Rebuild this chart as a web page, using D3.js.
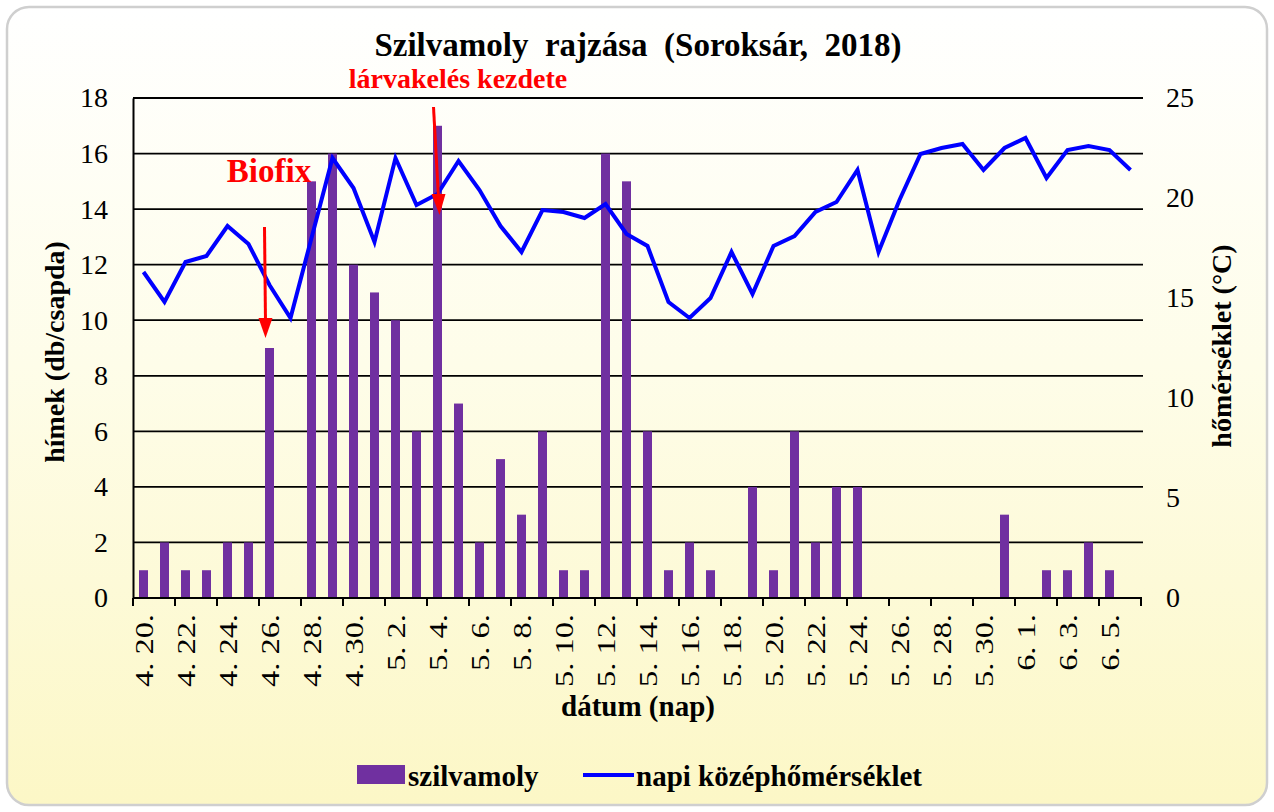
<!DOCTYPE html>
<html><head><meta charset="utf-8">
<script src="https://cdn.jsdelivr.net/npm/d3@7"></script>
<style>body{margin:0;background:#fff}svg{display:block}</style>
</head><body>
<svg id="c" width="1274" height="812"></svg>
<script>
const dates = ["4. 20.","4. 21.","4. 22.","4. 23.","4. 24.","4. 25.","4. 26.","4. 27.","4. 28.","4. 29.","4. 30.",
"5. 1.","5. 2.","5. 3.","5. 4.","5. 5.","5. 6.","5. 7.","5. 8.","5. 9.","5. 10.","5. 11.","5. 12.","5. 13.","5. 14.","5. 15.","5. 16.","5. 17.","5. 18.","5. 19.","5. 20.","5. 21.","5. 22.","5. 23.","5. 24.","5. 25.","5. 26.","5. 27.","5. 28.","5. 29.","5. 30.","5. 31.",
"6. 1.","6. 2.","6. 3.","6. 4.","6. 5.","6. 6."];
const moths = [1,2,1,1,2,2,9,0,15,16,12,11,10,6,17,7,2,5,3,6,1,1,16,15,6,1,2,1,0,4,1,6,2,4,4,0,0,0,0,0,0,3,0,1,1,2,1,0];
const temps = [16.3,14.8,16.8,17.1,18.6,17.7,15.65,14.0,18.0,22.0,20.5,17.8,22.0,19.65,20.2,21.85,20.4,18.6,17.3,19.4,19.3,19.0,19.7,18.2,17.6,14.8,14.0,15.0,17.3,15.2,17.6,18.1,19.3,19.8,21.4,17.3,19.9,22.2,22.5,22.7,21.4,22.5,23.0,21.0,22.4,22.6,22.4,21.4];
const leftTicks = [0,2,4,6,8,10,12,14,16,18];
const rightTicks = [0,5,10,15,20,25];
const title = "Szilvamoly  rajzása  (Soroksár,  2018)";
const leftLabel = "hímek (db/csapda)";
const rightLabel = "hőmérséklet (°C)";
const xLabel = "dátum (nap)";
const legendNames = ["szilvamoly","napi középhőmérséklet"];
const annotations = [{text:"Biofix", date:"4. 26."},{text:"lárvakelés kezdete", date:"5. 4."}];

const FONT = "'Liberation Serif', 'Times New Roman', serif";
const svg = d3.select("#c");
const defs = svg.append("defs");
const g1 = defs.append("linearGradient").attr("id","bg").attr("x1",0).attr("y1",0).attr("x2",0).attr("y2",1);
g1.append("stop").attr("offset","0%").attr("stop-color","#ffffff");
g1.append("stop").attr("offset","45%").attr("stop-color","#fefde9");
g1.append("stop").attr("offset","100%").attr("stop-color","#fcf7c6");
svg.append("rect").attr("width",1274).attr("height",812).attr("fill","#fff");
svg.append("rect").attr("x",7).attr("y",7).attr("width",1260).attr("height",798).attr("rx",22)
  .attr("fill","url(#bg)").attr("stroke","#cfcfcf").attr("stroke-width",2.5);

const L=133, R=1141, T=98, B=598;
const x = d3.scaleBand().domain(dates).range([L,R]).paddingInner(0).paddingOuter(0);
const yL = d3.scaleLinear().domain([0,18]).range([B,T]);
const yR = d3.scaleLinear().domain([0,25]).range([B,T]);

svg.append("g").selectAll("line").data(leftTicks.filter(d=>d>0)).join("line")
  .attr("x1",L).attr("x2",R+2).attr("y1",d=>yL(d)).attr("y2",d=>yL(d))
  .attr("stroke","#000").attr("stroke-width",1.8);

const bw = 9;
svg.append("g").selectAll("rect").data(dates).join("rect")
  .attr("x",(d)=>x(d)+x.bandwidth()/2-bw/2).attr("width",bw)
  .attr("y",(d,i)=>yL(moths[i])).attr("height",(d,i)=>B-yL(moths[i]))
  .attr("fill","#7030a0");

const line = d3.line().x((d,i)=>x(dates[i])+x.bandwidth()/2).y(d=>yR(d));
svg.append("path").datum(temps).attr("d",line).attr("fill","none")
  .attr("stroke","#0000ff").attr("stroke-width",4).attr("stroke-linejoin","miter");

const axL = svg.append("g").attr("transform",`translate(${L},0)`)
  .call(d3.axisLeft(yL).tickValues(leftTicks).tickSize(0).tickPadding(25));
axL.select(".domain").attr("stroke","#000").attr("stroke-width",2);
axL.selectAll("text").attr("font-size",28).attr("fill","#000").style("font-family",FONT);

const axR = svg.append("g").attr("transform",`translate(${R},0)`)
  .call(d3.axisRight(yR).tickValues(rightTicks).tickSize(0).tickPadding(25));
axR.select(".domain").remove();
axR.selectAll("text").attr("font-size",28).attr("fill","#000").style("font-family",FONT);

const tickDates = dates.filter((d,i)=>i%2===0);
const axB = svg.append("g").attr("transform",`translate(0,${B})`);
axB.append("line").attr("x1",L).attr("x2",R+1).attr("y1",0).attr("y2",0).attr("stroke","#000").attr("stroke-width",2);
axB.selectAll("line.t").data(d3.range(0,dates.length+1,2)).join("line").attr("class","t")
  .attr("x1",i=>i<dates.length?x(dates[i]):R).attr("x2",i=>i<dates.length?x(dates[i]):R)
  .attr("y1",0).attr("y2",8).attr("stroke","#000").attr("stroke-width",2);
axB.selectAll("text").data(tickDates).join("text")
  .attr("transform",d=>`translate(${x(d)+x.bandwidth()/2+9},16) rotate(-90) scale(1.25,1)`)
  .attr("text-anchor","end").attr("font-size",26).attr("fill","#000").style("font-family",FONT).text(d=>d);

function T_(sel){return sel.style("font-family",FONT).style("white-space","pre");}
T_(svg.append("text").attr("x",638).attr("y",56).attr("text-anchor","middle")
  .attr("font-size",33).attr("font-weight","bold").text(title));
T_(svg.append("text").attr("transform",`translate(64,352) rotate(-90)`).attr("text-anchor","middle")
  .attr("font-size",28).attr("font-weight","bold").text(leftLabel));
T_(svg.append("text").attr("transform",`translate(1231,346) rotate(-90)`).attr("text-anchor","middle")
  .attr("font-size",28).attr("font-weight","bold").text(rightLabel));
T_(svg.append("text").attr("x",638).attr("y",716).attr("text-anchor","middle")
  .attr("font-size",29).attr("font-weight","bold").text(xLabel));

const bx = x(annotations[0].date)+x.bandwidth()/2;
T_(svg.append("text").attr("x",269).attr("y",182).attr("text-anchor","middle").attr("fill","#ff0000")
  .attr("font-size",33).attr("font-weight","bold").text(annotations[0].text));
svg.append("path").attr("d",`M${bx-5},227 L${bx-4},322`).attr("stroke","#ff0000").attr("stroke-width",3).attr("fill","none");
svg.append("path").attr("d",`M${bx-11},318 L${bx+3},318 L${bx-4},338 Z`).attr("fill","#ff0000");
const lx = x(annotations[1].date)+x.bandwidth()/2;
T_(svg.append("text").attr("x",458).attr("y",88).attr("text-anchor","middle").attr("fill","#ff0000")
  .attr("font-size",28).attr("font-weight","bold").text(annotations[1].text));
svg.append("path").attr("d",`M${lx-4},107 L${lx+1},198`).attr("stroke","#ff0000").attr("stroke-width",3).attr("fill","none");
svg.append("path").attr("d",`M${lx-6},194 L${lx+8},194 L${lx+2},215 Z`).attr("fill","#ff0000");

svg.append("rect").attr("x",357).attr("y",765).attr("width",48).attr("height",19).attr("fill","#7030a0");
T_(svg.append("text").attr("x",408).attr("y",786).attr("font-size",29).attr("font-weight","bold").text(legendNames[0]));
svg.append("line").attr("x1",583).attr("x2",634).attr("y1",775).attr("y2",775).attr("stroke","#0000ff").attr("stroke-width",4);
T_(svg.append("text").attr("x",636).attr("y",786).attr("font-size",29).attr("font-weight","bold").text(legendNames[1]));
</script>
</body></html>
